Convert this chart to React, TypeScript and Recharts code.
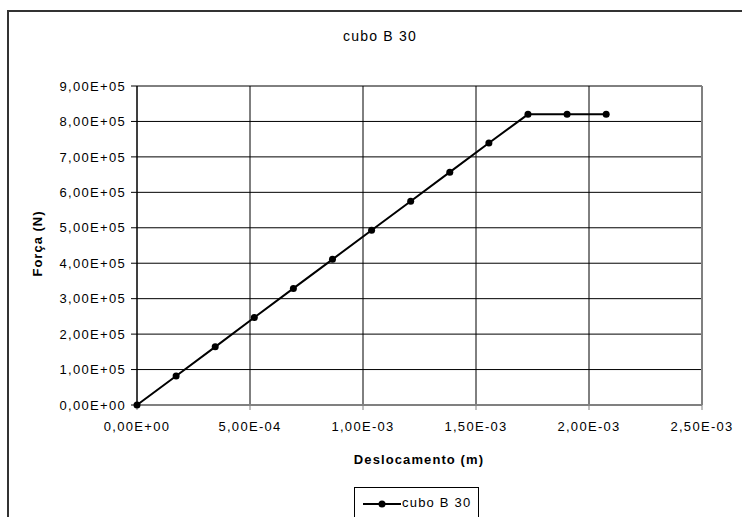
import { LineChart, Line, XAxis, YAxis, CartesianGrid, ReferenceLine } from 'recharts';

const seriesName = 'cubo B 30';
const deslocamento = [
  0, 1.73e-4, 3.46e-4, 5.19e-4, 6.92e-4, 8.65e-4, 1.038e-3, 1.211e-3, 1.384e-3, 1.557e-3,
  1.73e-3, 1.903e-3, 2.076e-3,
];
const forca = [
  0, 8.2e4, 1.64e5, 2.47e5, 3.29e5, 4.11e5, 4.93e5, 5.75e5, 6.57e5, 7.39e5, 8.2e5, 8.2e5, 8.2e5,
];
const xTicks = [0, 5e-4, 1e-3, 1.5e-3, 2e-3, 2.5e-3];
const yTicks = [0, 1e5, 2e5, 3e5, 4e5, 5e5, 6e5, 7e5, 8e5, 9e5];

const data = deslocamento.map((x, i) => ({ x, y: forca[i] }));

// Excel style: 8,00E+05
const fmt = (v: number) => {
  const [m, e] = v.toExponential(2).split('e');
  const sign = e[0] === '-' ? '-' : '+';
  const n = Math.abs(parseInt(e, 10));
  return m.replace('.', ',') + 'E' + sign + String(n).padStart(2, '0');
};

const font = '"Liberation Sans", Arial, sans-serif';
const tickStyle = { fill: '#000', fontSize: 13, fontFamily: font, letterSpacing: 1.3 };

export default function App() {
  return (
    <div
      style={{
        position: 'absolute',
        left: 0,
        top: 0,
        width: 742,
        height: 517,
        overflow: 'hidden',
        background: '#fff',
        fontFamily: font,
      }}
    >
      <div
        style={{
          position: 'absolute',
          left: 7,
          top: 10,
          width: 760,
          height: 540,
          border: '2px solid #333',
          boxSizing: 'border-box',
        }}
      />
      <div
        style={{
          position: 'absolute',
          left: 280,
          width: 200,
          top: 28,
          textAlign: 'center',
          fontSize: 14,
          letterSpacing: 1.2,
        }}
      >
        {seriesName}
      </div>
      <LineChart
        width={742}
        height={517}
        data={data}
        margin={{ top: 86, right: 40, left: 57, bottom: 72 }}
        style={{ position: 'absolute', left: 0, top: 0 }}
      >
        <CartesianGrid stroke="#000" strokeWidth={1} />
        <XAxis
          dataKey="x"
          type="number"
          domain={[0, 2.5e-3]}
          ticks={xTicks}
          tickFormatter={fmt}
          height={40}
          tickSize={5}
          tickMargin={12}
          interval={0}
          tick={tickStyle}
          axisLine={{ stroke: '#808080', strokeWidth: 2 }}
          tickLine={{ stroke: '#808080' }}
        />
        <YAxis
          dataKey="y"
          type="number"
          domain={[0, 9e5]}
          ticks={yTicks}
          tickFormatter={fmt}
          width={80}
          tickSize={6}
          tickMargin={5}
          interval={0}
          tick={tickStyle}
          axisLine={{ stroke: '#000' }}
          tickLine={{ stroke: '#000' }}
        />
        <ReferenceLine x={2.5e-3} stroke="#808080" strokeWidth={2} />
        <Line
          type="linear"
          dataKey="y"
          stroke="#000"
          strokeWidth={2}
          dot={{ r: 3.5, fill: '#000', stroke: '#000', strokeWidth: 0 }}
          isAnimationActive={false}
        />
      </LineChart>
      <div
        style={{
          position: 'absolute',
          left: -13,
          top: 236,
          width: 100,
          textAlign: 'center',
          fontWeight: 'bold',
          fontSize: 13,
          letterSpacing: 1,
          transform: 'rotate(-90deg)',
        }}
      >
        Força (N)
      </div>
      <div
        style={{
          position: 'absolute',
          left: 319,
          width: 200,
          top: 452,
          textAlign: 'center',
          fontWeight: 'bold',
          fontSize: 13,
          letterSpacing: 1.1,
        }}
      >
        Deslocamento (m)
      </div>
      <div
        style={{
          position: 'absolute',
          left: 354,
          top: 487,
          width: 125,
          height: 40,
          border: '1px solid #000',
          boxSizing: 'border-box',
        }}
      >
        <svg width={42} height={20} style={{ position: 'absolute', left: 6, top: 6 }}>
          <line x1={2} y1={10} x2={40} y2={10} stroke="#000" strokeWidth={2} />
          <circle cx={21} cy={10} r={3.5} fill="#000" />
        </svg>
        <div style={{ position: 'absolute', left: 47, top: 7, fontSize: 13, letterSpacing: 1.2 }}>
          {seriesName}
        </div>
      </div>
    </div>
  );
}
